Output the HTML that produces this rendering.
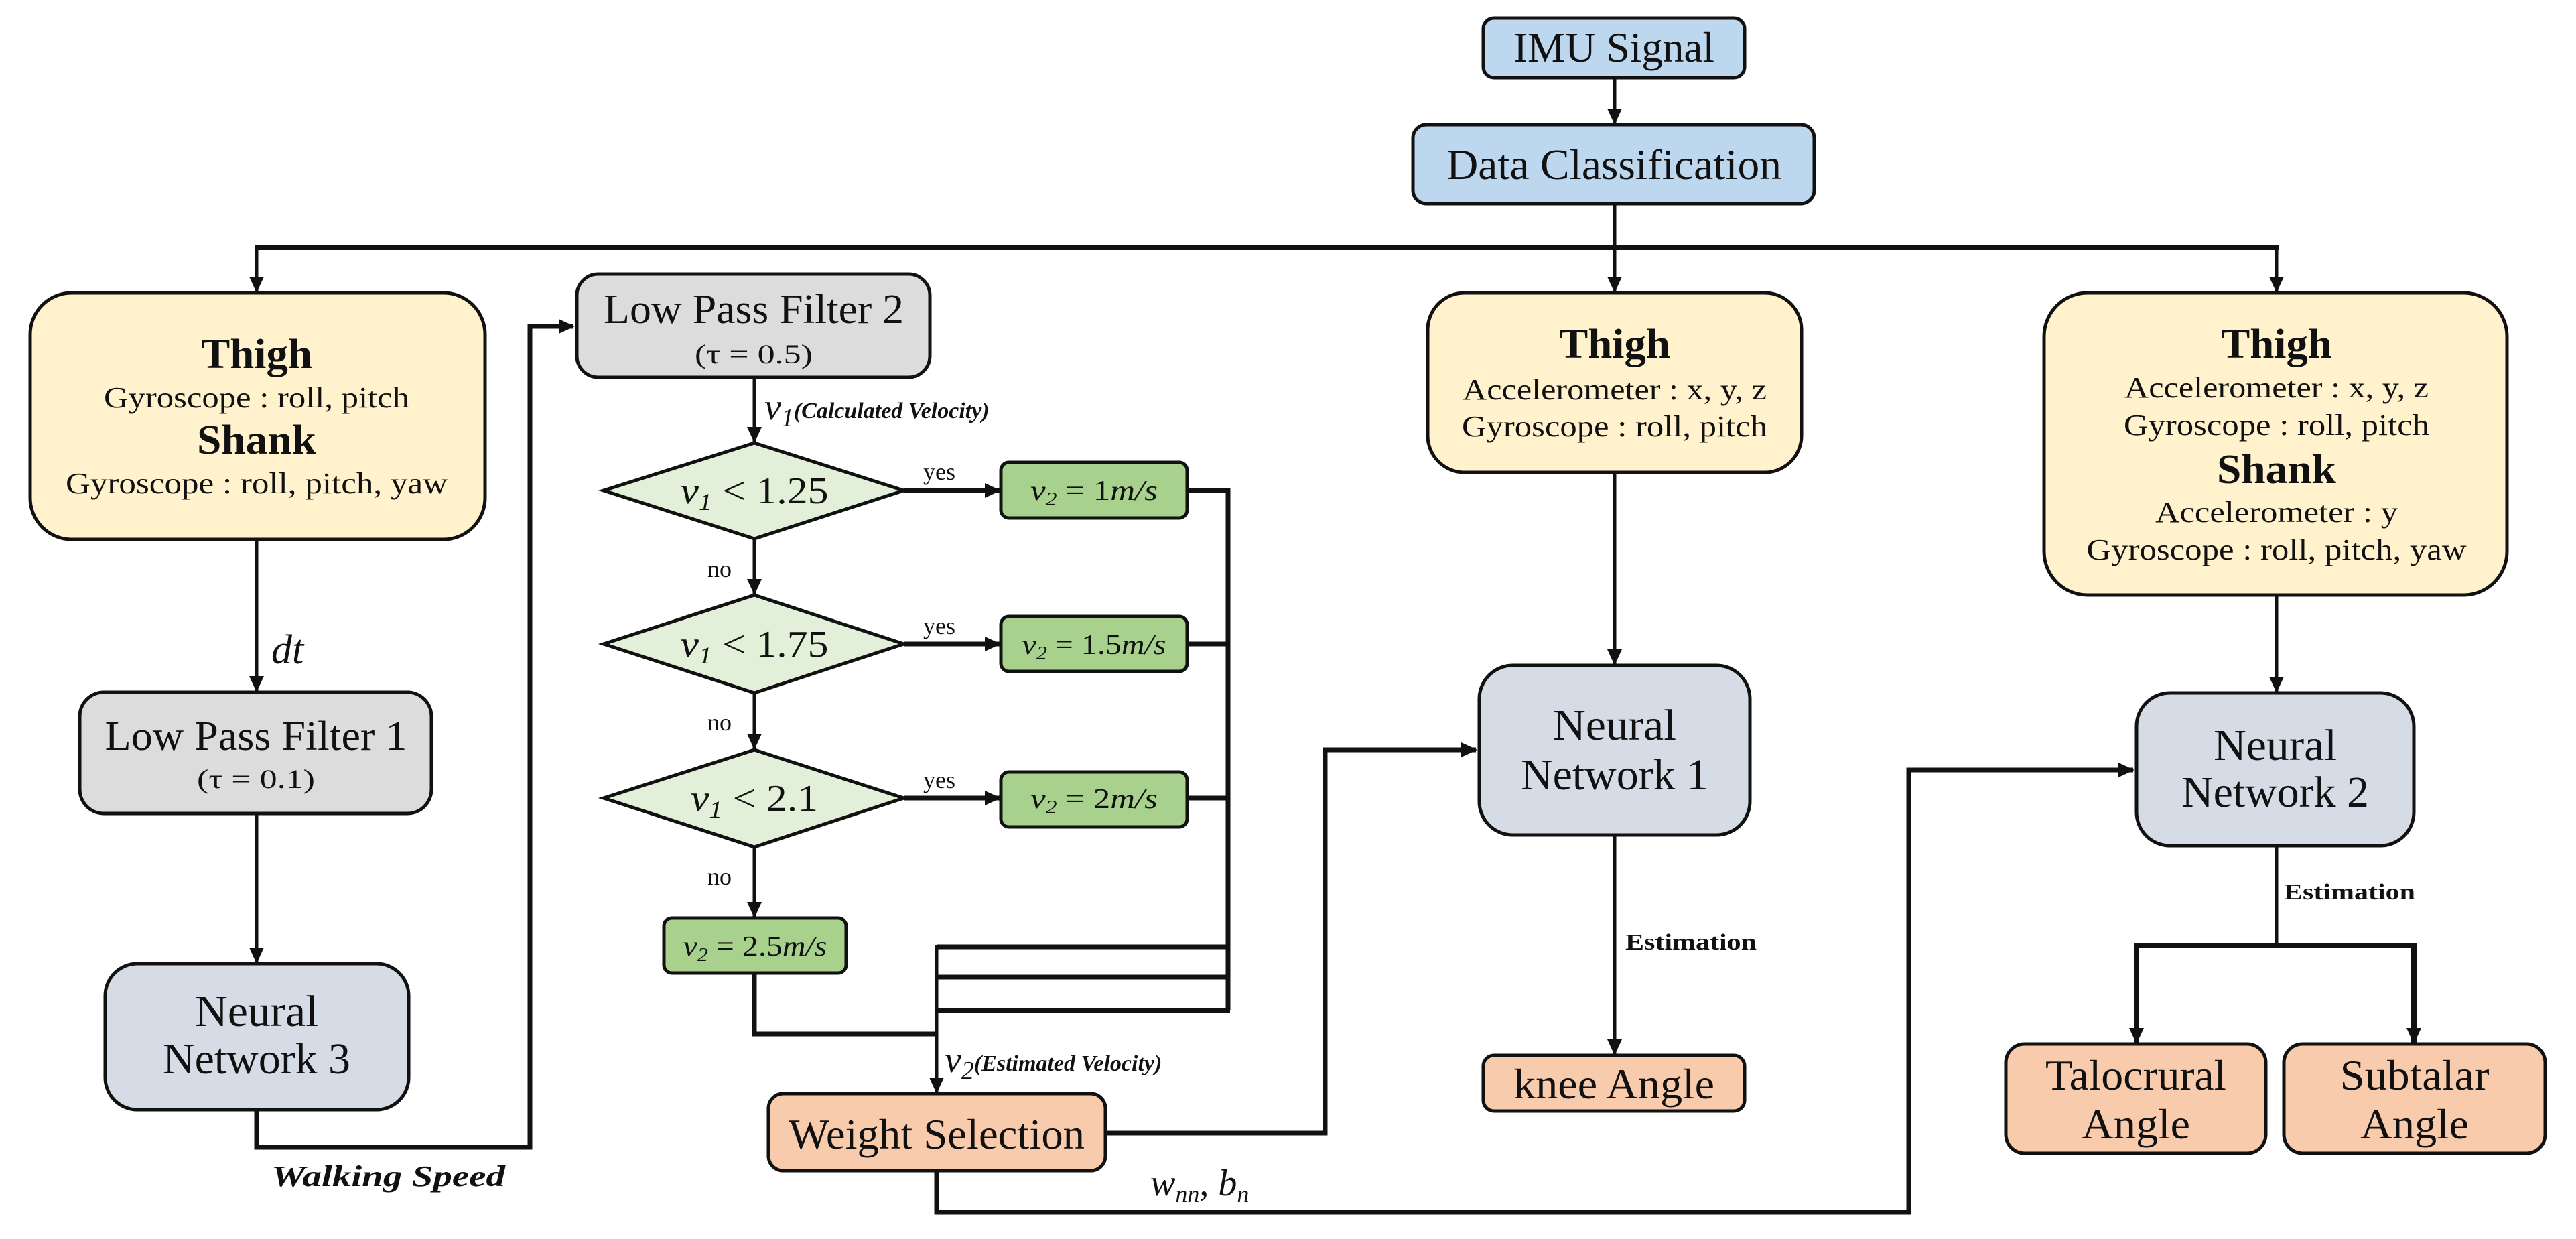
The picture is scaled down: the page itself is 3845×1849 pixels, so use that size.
<!DOCTYPE html>
<html><head><meta charset="utf-8"><style>
html,body{margin:0;padding:0;background:#fff;}
svg{display:block;}
text{font-family:"Liberation Serif",serif;fill:#111;}
</style></head><body>
<svg width="3845" height="1849" viewBox="0 0 3845 1849" xmlns="http://www.w3.org/2000/svg">
<defs>
<marker id="a" markerUnits="userSpaceOnUse" markerWidth="24" markerHeight="22" refX="22" refY="11" orient="auto"><path d="M0,0 L24,11 L0,22 z" fill="#111"/></marker>
</defs>
<g stroke="#111" fill="none" stroke-linejoin="miter">
<line x1="2410" y1="116" x2="2410" y2="184" stroke-width="5" marker-end="url(#a)"/>
<line x1="2410" y1="304" x2="2410" y2="435" stroke-width="5" marker-end="url(#a)"/>
<line x1="380" y1="369" x2="3401" y2="369" stroke-width="8"/>
<line x1="383" y1="369" x2="383" y2="435" stroke-width="5" marker-end="url(#a)"/>
<line x1="3398" y1="369" x2="3398" y2="435" stroke-width="5" marker-end="url(#a)"/>
<line x1="383" y1="805" x2="383" y2="1031" stroke-width="5" marker-end="url(#a)"/>
<line x1="383" y1="1214" x2="383" y2="1436" stroke-width="5" marker-end="url(#a)"/>
<polyline points="383,1656 383,1712 791,1712 791,487 856,487" stroke-width="7" marker-end="url(#a)"/>
<line x1="1126" y1="563" x2="1126" y2="659" stroke-width="5" marker-end="url(#a)"/>
<line x1="1126" y1="804" x2="1126" y2="886" stroke-width="5" marker-end="url(#a)"/>
<line x1="1126" y1="1034" x2="1126" y2="1117" stroke-width="5" marker-end="url(#a)"/>
<line x1="1126" y1="1264" x2="1126" y2="1368" stroke-width="5" marker-end="url(#a)"/>
<line x1="1349" y1="732" x2="1492" y2="732" stroke-width="7" marker-end="url(#a)"/>
<line x1="1349" y1="961" x2="1492" y2="961" stroke-width="7" marker-end="url(#a)"/>
<line x1="1349" y1="1191" x2="1492" y2="1191" stroke-width="7" marker-end="url(#a)"/>
<polyline points="1772,732 1833,732 1833,1508" stroke-width="7"/>
<line x1="1772" y1="961" x2="1833" y2="961" stroke-width="7"/>
<line x1="1772" y1="1191" x2="1833" y2="1191" stroke-width="7"/>
<line x1="1398" y1="1413" x2="1836" y2="1413" stroke-width="7"/>
<line x1="1398" y1="1458" x2="1836" y2="1458" stroke-width="7"/>
<line x1="1398" y1="1508" x2="1836" y2="1508" stroke-width="7"/>
<polyline points="1126,1452 1126,1543 1398,1543" stroke-width="7"/>
<line x1="1398" y1="1410" x2="1398" y2="1630" stroke-width="5" marker-end="url(#a)"/>
<polyline points="1650,1691 1978,1691 1978,1119 2203,1119" stroke-width="7" marker-end="url(#a)"/>
<polyline points="1398,1747 1398,1809 2849,1809 2849,1149 3184,1149" stroke-width="7" marker-end="url(#a)"/>
<line x1="2410" y1="705" x2="2410" y2="991" stroke-width="5" marker-end="url(#a)"/>
<line x1="2410" y1="1246" x2="2410" y2="1573" stroke-width="5" marker-end="url(#a)"/>
<line x1="3398" y1="888" x2="3398" y2="1032" stroke-width="5" marker-end="url(#a)"/>
<line x1="3398" y1="1262" x2="3398" y2="1411" stroke-width="5"/>
<polyline points="3189,1558 3189,1411 3603,1411 3603,1558" stroke-width="8"/>
<line x1="3189" y1="1420" x2="3189" y2="1556" stroke-width="5" marker-end="url(#a)"/>
<line x1="3603" y1="1420" x2="3603" y2="1556" stroke-width="5" marker-end="url(#a)"/>
</g>
<g stroke="#111" stroke-width="5">
<rect x="2214" y="27" width="390" height="89" rx="16" fill="#bdd7ee"/>
<rect x="2109" y="186" width="599" height="118" rx="20" fill="#bdd7ee"/>
<rect x="45" y="437" width="679" height="368" rx="62" fill="#fff2cc"/>
<rect x="2131" y="437" width="558" height="268" rx="55" fill="#fff2cc"/>
<rect x="3051" y="437" width="691" height="451" rx="65" fill="#fff2cc"/>
<rect x="861" y="409" width="527" height="154" rx="32" fill="#dcdcdc"/>
<rect x="119" y="1033" width="525" height="181" rx="36" fill="#dcdcdc"/>
<rect x="157" y="1438" width="453" height="218" rx="48" fill="#d6dce5"/>
<rect x="2208" y="993" width="404" height="253" rx="50" fill="#d6dce5"/>
<rect x="3189" y="1034" width="414" height="228" rx="50" fill="#d6dce5"/>
<polygon points="901,732 1126,661 1349,732 1126,804" fill="#e2f0d9"/>
<polygon points="901,961 1126,888 1349,961 1126,1034" fill="#e2f0d9"/>
<polygon points="901,1191 1126,1119 1349,1191 1126,1264" fill="#e2f0d9"/>
<rect x="1494" y="690" width="278" height="83" rx="12" fill="#a9d18e"/>
<rect x="1494" y="920" width="278" height="82" rx="12" fill="#a9d18e"/>
<rect x="1494" y="1152" width="278" height="82" rx="12" fill="#a9d18e"/>
<rect x="991" y="1370" width="272" height="82" rx="12" fill="#a9d18e"/>
<rect x="1147" y="1632" width="503" height="115" rx="22" fill="#f8cbad"/>
<rect x="2214" y="1575" width="390" height="83" rx="16" fill="#f8cbad"/>
<rect x="2994" y="1558" width="388" height="163" rx="28" fill="#f8cbad"/>
<rect x="3409" y="1558" width="390" height="163" rx="28" fill="#f8cbad"/>
</g>
<g text-anchor="middle">
<text x="2409" y="92" font-size="64" textLength="300" lengthAdjust="spacingAndGlyphs">IMU Signal</text>
<text x="2409" y="267" font-size="64" textLength="500" lengthAdjust="spacingAndGlyphs">Data Classification</text>
<text x="383" y="549" font-size="62" font-weight="bold" textLength="166" lengthAdjust="spacingAndGlyphs">Thigh</text>
<text x="383" y="608" font-size="44" textLength="456" lengthAdjust="spacingAndGlyphs">Gyroscope : roll, pitch</text>
<text x="383" y="677" font-size="62" font-weight="bold" textLength="178" lengthAdjust="spacingAndGlyphs">Shank</text>
<text x="383" y="736" font-size="44" textLength="570" lengthAdjust="spacingAndGlyphs">Gyroscope : roll, pitch, yaw</text>
<text x="2410" y="534" font-size="62" font-weight="bold" textLength="166" lengthAdjust="spacingAndGlyphs">Thigh</text>
<text x="2410" y="596" font-size="44" textLength="454" lengthAdjust="spacingAndGlyphs">Accelerometer : x, y, z</text>
<text x="2410" y="651" font-size="44" textLength="456" lengthAdjust="spacingAndGlyphs">Gyroscope : roll, pitch</text>
<text x="3398" y="534" font-size="62" font-weight="bold" textLength="166" lengthAdjust="spacingAndGlyphs">Thigh</text>
<text x="3398" y="593" font-size="44" textLength="454" lengthAdjust="spacingAndGlyphs">Accelerometer : x, y, z</text>
<text x="3398" y="649" font-size="44" textLength="456" lengthAdjust="spacingAndGlyphs">Gyroscope : roll, pitch</text>
<text x="3398" y="721" font-size="62" font-weight="bold" textLength="178" lengthAdjust="spacingAndGlyphs">Shank</text>
<text x="3398" y="779" font-size="44" textLength="362" lengthAdjust="spacingAndGlyphs">Accelerometer : y</text>
<text x="3398" y="835" font-size="44" textLength="567" lengthAdjust="spacingAndGlyphs">Gyroscope : roll, pitch, yaw</text>
<text x="1125" y="482" font-size="62" fill="#222" textLength="448" lengthAdjust="spacingAndGlyphs">Low Pass Filter 2</text>
<text x="1125" y="542" font-size="40" textLength="176" lengthAdjust="spacingAndGlyphs">(τ = 0.5)</text>
<text x="382" y="1119" font-size="62" fill="#222" textLength="451" lengthAdjust="spacingAndGlyphs">Low Pass Filter 1</text>
<text x="382" y="1176" font-size="40" textLength="176" lengthAdjust="spacingAndGlyphs">(τ = 0.1)</text>
<text x="383" y="1531" font-size="66" fill="#222" textLength="184" lengthAdjust="spacingAndGlyphs">Neural</text>
<text x="383" y="1602" font-size="66" fill="#222" textLength="280" lengthAdjust="spacingAndGlyphs">Network 3</text>
<text x="2410" y="1104" font-size="66" fill="#222" textLength="184" lengthAdjust="spacingAndGlyphs">Neural</text>
<text x="2410" y="1178" font-size="66" fill="#222" textLength="280" lengthAdjust="spacingAndGlyphs">Network 1</text>
<text x="3396" y="1134" font-size="66" fill="#222" textLength="184" lengthAdjust="spacingAndGlyphs">Neural</text>
<text x="3396" y="1204" font-size="66" fill="#222" textLength="280" lengthAdjust="spacingAndGlyphs">Network 2</text>
<text x="2409" y="1639" font-size="64" textLength="300" lengthAdjust="spacingAndGlyphs">knee Angle</text>
<text x="3188" y="1626" font-size="64" textLength="270" lengthAdjust="spacingAndGlyphs">Talocrural</text>
<text x="3188" y="1699" font-size="64" textLength="162" lengthAdjust="spacingAndGlyphs">Angle</text>
<text x="3604" y="1626" font-size="64" textLength="223" lengthAdjust="spacingAndGlyphs">Subtalar</text>
<text x="3604" y="1699" font-size="64" textLength="162" lengthAdjust="spacingAndGlyphs">Angle</text>
<text x="1398" y="1714" font-size="64" textLength="442" lengthAdjust="spacingAndGlyphs">Weight Selection</text>
<text x="1126" y="751" font-size="56" font-style="italic" textLength="221" lengthAdjust="spacingAndGlyphs">v<tspan font-size="36" dy="10">1</tspan><tspan font-style="normal" dy="-10"> &lt; 1.25</tspan></text>
<text x="1126" y="980" font-size="56" font-style="italic" textLength="221" lengthAdjust="spacingAndGlyphs">v<tspan font-size="36" dy="10">1</tspan><tspan font-style="normal" dy="-10"> &lt; 1.75</tspan></text>
<text x="1126" y="1210" font-size="56" font-style="italic" textLength="190" lengthAdjust="spacingAndGlyphs">v<tspan font-size="36" dy="10">1</tspan><tspan font-style="normal" dy="-10"> &lt; 2.1</tspan></text>
<text x="1633" y="746" font-size="42" font-style="italic" textLength="190" lengthAdjust="spacingAndGlyphs">v<tspan font-size="28" dy="8">2</tspan><tspan font-style="normal" dy="-8"> = 1</tspan>m/s</text>
<text x="1633" y="976" font-size="42" font-style="italic" textLength="215" lengthAdjust="spacingAndGlyphs">v<tspan font-size="28" dy="8">2</tspan><tspan font-style="normal" dy="-8"> = 1.5</tspan>m/s</text>
<text x="1633" y="1206" font-size="42" font-style="italic" textLength="190" lengthAdjust="spacingAndGlyphs">v<tspan font-size="28" dy="8">2</tspan><tspan font-style="normal" dy="-8"> = 2</tspan>m/s</text>
<text x="1127" y="1426" font-size="42" font-style="italic" textLength="215" lengthAdjust="spacingAndGlyphs">v<tspan font-size="28" dy="8">2</tspan><tspan font-style="normal" dy="-8"> = 2.5</tspan>m/s</text>
</g>
<g font-size="36">
<text x="1378" y="716">yes</text>
<text x="1378" y="946">yes</text>
<text x="1378" y="1176">yes</text>
<text x="1056" y="861">no</text>
<text x="1056" y="1090">no</text>
<text x="1056" y="1320">no</text>
<text x="2426" y="1417" font-weight="bold" font-size="34" textLength="196" lengthAdjust="spacingAndGlyphs">Estimation</text>
<text x="3409" y="1342" font-weight="bold" font-size="34" textLength="196" lengthAdjust="spacingAndGlyphs">Estimation</text>
<text x="405" y="990" font-size="62" font-style="italic">dt</text>
<text x="405" y="1770" font-size="44" font-weight="bold" font-style="italic" textLength="349" lengthAdjust="spacingAndGlyphs">Walking Speed</text>
<text x="1141" y="626" font-size="56" font-style="italic">v<tspan font-size="38" dy="10">1</tspan><tspan font-size="34" font-weight="bold" dy="-12">(Calculated Velocity)</tspan></text>
<text x="1410" y="1600" font-size="56" font-style="italic">v<tspan font-size="38" dy="10">2</tspan><tspan font-size="34" font-weight="bold" dy="-12">(Estimated Velocity)</tspan></text>
<text x="1717" y="1784" font-size="56" font-style="italic">w<tspan font-size="36" dy="10">nn</tspan><tspan dy="-10" font-style="normal">, </tspan>b<tspan font-size="36" dy="10">n</tspan></text>
</g>
</svg>
</body></html>
